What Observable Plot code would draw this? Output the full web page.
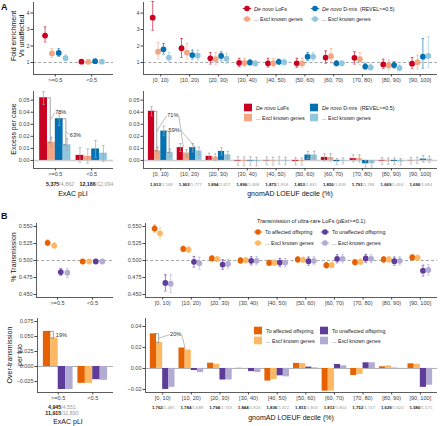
<!DOCTYPE html>
<html><head><meta charset="utf-8">
<script src="https://cdn.jsdelivr.net/npm/d3@7"></script>
<script src="https://cdn.jsdelivr.net/npm/@observablehq/plot@0.6"></script>
<style>
body{margin:0;background:#fff;}
#fig{position:relative;width:440px;height:426px;overflow:hidden;background:#fff;}
</style></head><body><div id="fig"></div><script>
// ---------------- DATA ----------------
const pliCats = [">=0.5", "<0.5"];
const loeufCats = ["[0, 10)", "[10, 20)", "[20, 30)", "[30, 40)", "[40, 50)", "[50, 60)", "[60, 70)", "[70, 80)", "[80, 90)", "[90, 100]"];

// A top: fold enrichment vs unaffected [estimate, low, high]
const foldPliLoF      = [[2.63, 2.24, 3.16], [1.05, 0.98, 1.12]];
const foldPliLoFExcl  = [[1.55, 1.30, 1.85], [1.04, 0.97, 1.11]];
const foldPliDmis     = [[1.58, 1.36, 1.84], [1.08, 1.02, 1.14]];
const foldPliDmisExcl = [[1.26, 1.10, 1.45], [1.05, 0.99, 1.11]];
const foldLoeufLoF      = [[3.72,2.95,4.70],[1.87,1.30,2.45],[1.25,0.90,1.60],[0.98,0.75,1.25],[0.95,0.72,1.25],[0.95,0.70,1.25],[1.30,0.95,1.70],[1.28,0.90,1.65],[0.88,0.62,1.20],[0.93,0.62,1.30]];
const foldLoeufLoFExcl  = [[1.65,1.20,2.20],[1.60,1.20,2.15],[1.20,0.85,1.60],[0.97,0.75,1.25],[0.96,0.75,1.25],[0.95,0.72,1.25],[1.38,0.95,1.85],[1.20,0.85,1.60],[0.82,0.55,1.15],[1.02,0.60,1.45]];
const foldLoeufDmis     = [[1.80,1.50,2.15],[1.45,1.20,1.75],[1.40,1.10,1.65],[1.00,0.85,1.15],[1.04,0.90,1.20],[1.35,1.12,1.60],[0.95,0.80,1.10],[0.75,0.60,0.95],[0.84,0.65,1.05],[1.35,0.65,2.45]];
const foldLoeufDmisExcl = [[1.30,1.05,1.60],[1.42,1.15,1.75],[1.23,0.95,1.55],[0.94,0.80,1.10],[1.02,0.85,1.20],[1.35,1.10,1.60],[0.95,0.80,1.10],[0.70,0.55,0.90],[0.66,0.50,0.85],[1.40,0.70,2.55]];

// A middle: excess per case [estimate, low, high]
const excessPliLoF      = [[0.0520,0.0465,0.0570],[0.0042,-0.0015,0.0105]];
const excessPliLoFExcl  = [[0.0150,0.0110,0.0192],[0.0034,-0.0025,0.0095]];
const excessPliDmis     = [[0.0346,0.0290,0.0390],[0.0095,0.0025,0.0165]];
const excessPliDmisExcl = [[0.0130,0.0080,0.0180],[0.0060,-0.0010,0.0123]];
const excessLoeufLoF      = [[0.0408,0.0370,0.0445],[0.0106,0.0075,0.0140],[0.0034,0.0005,0.0060],[-0.0005,-0.0040,0.0030],[-0.0003,-0.0035,0.0028],[-0.0007,-0.0038,0.0022],[0.0025,-0.0005,0.0055],[0.0015,-0.0012,0.0045],[-0.0005,-0.0032,0.0022],[-0.0002,-0.0030,0.0025]];
const excessLoeufLoFExcl  = [[0.0080,0.0055,0.0110],[0.0061,0.0030,0.0090],[0.0028,0.0000,0.0055],[-0.0008,-0.0045,0.0028],[-0.0005,-0.0038,0.0026],[-0.0008,-0.0038,0.0020],[0.0025,-0.0005,0.0055],[0.0015,-0.0015,0.0045],[-0.0005,-0.0032,0.0020],[0.0001,-0.0025,0.0026]];
const excessLoeufDmis     = [[0.0243,0.0205,0.0285],[0.0106,0.0070,0.0140],[0.0075,0.0045,0.0105],[-0.0005,-0.0040,0.0030],[0.0000,-0.0030,0.0030],[0.0045,0.0015,0.0075],[-0.0010,-0.0035,0.0015],[-0.0028,-0.0055,0.0000],[-0.0008,-0.0035,0.0020],[0.0011,-0.0015,0.0040]];
const excessLoeufDmisExcl = [[0.0067,0.0035,0.0095],[0.0078,0.0045,0.0110],[0.0047,0.0015,0.0075],[-0.0010,-0.0045,0.0025],[-0.0004,-0.0035,0.0025],[0.0045,0.0015,0.0075],[-0.0005,-0.0030,0.0020],[-0.0028,-0.0055,0.0000],[-0.0012,-0.0040,0.0015],[0.0010,-0.0015,0.0035]];

const countsPliA = ["5,375", "12,186"];
const countsPliAExcl = ["4,862", "12,094"];
const countsLoeufA = ["1,913","1,903","1,894","1,890","1,875","1,853","1,850","1,791","1,669","1,690"];
const countsLoeufAExcl = ["1,568","1,777","1,827","1,868","1,858","1,841","1,839","1,784","1,664","1,684"];

// B top: % transmission [estimate, low, high]
const transPliAff       = [[0.526,0.522,0.530],[0.4985,0.4968,0.5002]];
const transPliAffExcl   = [[0.522,0.518,0.526],[0.4985,0.4968,0.5002]];
const transPliUnaff     = [[0.483,0.478,0.488],[0.4985,0.4968,0.5002]];
const transPliUnaffExcl = [[0.482,0.475,0.488],[0.4985,0.4968,0.5002]];
const transLoeufAff       = [[0.547,0.542,0.552],[0.517,0.513,0.521],[0.503,0.499,0.507],[0.500,0.496,0.504],[0.4965,0.4925,0.5005],[0.5015,0.4975,0.5055],[0.493,0.489,0.497],[0.4975,0.4935,0.5015],[0.5015,0.4975,0.5055],[0.5045,0.5005,0.5085]];
const transLoeufAffExcl   = [[0.540,0.532,0.548],[0.516,0.512,0.520],[0.502,0.498,0.506],[0.5005,0.4965,0.5045],[0.4967,0.4927,0.5007],[0.501,0.497,0.505],[0.4935,0.4895,0.4975],[0.498,0.494,0.502],[0.5015,0.4975,0.5055],[0.504,0.500,0.508]];
const transLoeufUnaff     = [[0.467,0.455,0.479],[0.498,0.490,0.506],[0.494,0.487,0.501],[0.4995,0.4935,0.5055],[0.497,0.491,0.503],[0.499,0.493,0.505],[0.5025,0.4965,0.5085],[0.503,0.497,0.509],[0.499,0.493,0.505],[0.485,0.477,0.493]];
const transLoeufUnaffExcl = [[0.466,0.453,0.479],[0.496,0.487,0.505],[0.495,0.488,0.502],[0.4995,0.4935,0.5055],[0.497,0.491,0.503],[0.4995,0.4935,0.5055],[0.5025,0.4965,0.5085],[0.5025,0.4965,0.5085],[0.4995,0.4935,0.5055],[0.486,0.478,0.494]];

// B bottom: over-transmission per trio
const overPliAff       = [0.0585, -0.0280];
const overPliAffExcl   = [0.0474, -0.0280];
const overPliUnaff     = [-0.0383, -0.0220];
const overPliUnaffExcl = [-0.0383, -0.0230];
const overLoeufAff       = [0.0330, 0.0195, 0.0050, 0.0002, -0.0120, 0.0048, -0.0216, -0.0067, 0.0016, 0.0044];
const overLoeufAffExcl   = [0.0248, 0.0175, 0.0040, 0.0001, -0.0105, 0.0048, -0.0216, -0.0057, 0.0025, 0.0040];
const overLoeufUnaff     = [-0.0200, -0.0020, -0.0110, -0.0030, -0.0070, 0.0013, 0.0038, 0.0054, 0.0002, -0.0180];
const overLoeufUnaffExcl = [-0.0180, -0.0040, -0.0110, -0.0040, -0.0080, 0.0006, 0.0025, 0.0054, 0.0001, -0.0160];

const countsPliB = ["4,945", "11,915"];
const countsPliBExcl = ["4,551", "11,830"];
const countsLoeufB = ["1,762","1,784","1,794","1,844","1,836","1,815","1,813","1,752","1,629","1,580"];
const countsLoeufBExcl = ["1,485","1,688","1,743","1,824","1,822","1,803","1,804","1,747","1,624","1,575"];

const annA3Labels = ["78%", "63%"];
const annA4Labels = ["71%", "59%"];
const annB3Labels = ["19%"];
const annB4Labels = ["20%"];

const legendA = ["De novo LoFs", "... Excl known genes", "De novo D-mis  (REVEL>=0.5)", "... Excl known genes"];
const legendBTitle = "Transmission of ultra-rare LoFs (pExt>=0.1)";
const legendB = ["To affected offspring", "... Excl known genes", "To unaffected offspring", "... Excl known genes"];

// ---------------- STYLE ----------------
const FONT = '"Liberation Sans", Arial, Helvetica, sans-serif';
const C_A = ["#CA0020", "#F4A582", "#0571B0", "#92C5DE"];
const C_B = ["#E66101", "#FDB863", "#5E3C99", "#B2ABD2"];
const PT_OFF = [-0.28125, -0.09375, 0.09375, 0.28125];
const BAR_W = 0.215;
const BAR_OFF = [-0.3225, -0.1075, 0.1075, 0.3225];
const fig = document.getElementById("fig");

function rowsOf(seriesList, cats) {
  const rows = [];
  seriesList.forEach((arr, s) => arr.forEach((v, i) => {
    const t = Array.isArray(v) ? v : [v, null, null];
    rows.push({i, s, cat: cats[i], est: t[0], lo: t[1], hi: t[2]});
  }));
  return rows;
}
const estOf = list => list.map(a => a.map(v => Array.isArray(v) ? v[0] : v));

function pointRange(rows, colors, ctx) {
  const cap = 1.4 / ctx.ux;
  const X = d => d.i + PT_OFF[d.s];
  const col = d => colors[d.s];
  return [
    Plot.ruleX(rows, {x: X, y1: "lo", y2: "hi", stroke: col, strokeWidth: 0.9, strokeOpacity: 0.7}),
    Plot.link(rows, {x1: d => X(d) - cap, x2: d => X(d) + cap, y1: "lo", y2: "lo", stroke: col, strokeWidth: 0.8, strokeOpacity: 0.7}),
    Plot.link(rows, {x1: d => X(d) - cap, x2: d => X(d) + cap, y1: "hi", y2: "hi", stroke: col, strokeWidth: 0.8, strokeOpacity: 0.7}),
    Plot.dot(rows, {x: X, y: "est", r: 2.9, fill: col})
  ];
}
function bars(rows, colors, ctx, withErr) {
  const X = d => d.i + BAR_OFF[d.s];
  const m = [Plot.rect(rows, {x1: d => X(d) - BAR_W / 2, x2: d => X(d) + BAR_W / 2, y1: 0, y2: "est", fill: d => colors[d.s]})];
  if (withErr) {
    const cap = 1.3 / ctx.ux;
    m.push(Plot.ruleX(rows, {x: X, y1: "lo", y2: "hi", stroke: "#a8a8a8", strokeWidth: 0.7}));
    m.push(Plot.link(rows, {x1: d => X(d) - cap, x2: d => X(d) + cap, y1: "lo", y2: "lo", stroke: "#a8a8a8", strokeWidth: 0.7}));
    m.push(Plot.link(rows, {x1: d => X(d) - cap, x2: d => X(d) + cap, y1: "hi", y2: "hi", stroke: "#a8a8a8", strokeWidth: 0.7}));
  }
  return m;
}
function bracket(vals, ann, ctx) {
  const {cat: c, a, b, label, dx, dy, extend} = ann;
  const va = vals[a][c], vb = vals[b][c];
  const xa = c + BAR_OFF[a];
  const bx = xa + BAR_W / 2 + 0.35 * BAR_W;
  const mid = (va + vb) / 2;
  const path = [{x: xa + 0.2 * BAR_W, y: va}, {x: bx, y: va}, {x: bx, y: vb}, {x: bx - 0.3 * BAR_W, y: vb}];
  const tx = bx + dx / ctx.ux, ty = mid - dy / ctx.uy;
  const m = [
    Plot.line(path, {x: "x", y: "y", stroke: "#6a6a6a", strokeWidth: 0.6}),
    Plot.text([label], {x: tx, y: ty, fontSize: 5.6, fill: "#333"})
  ];
  if (dx > 8) m.push(Plot.link([0], {x1: bx, y1: mid, x2: tx - 6 / ctx.ux, y2: ty, stroke: "#7a7a7a", strokeWidth: 0.5}));
  if (extend) {
    const ex = c + 1 + (BAR_OFF[a] + BAR_OFF[b]) / 2;
    const ey = Math.max(vals[a][c + 1], vals[b][c + 1]);
    m.push(Plot.link([0], {x1: tx + 6 / ctx.ux, y1: ty, x2: ex, y2: ey, stroke: "#7a7a7a", strokeWidth: 0.5}));
  }
  return m;
}
function countMarks(bold, grey, dy, fs, dx = 0) {
  const idx = d3.range(bold.length);
  return [
    Plot.text(idx, {x: i => i, frameAnchor: "bottom", dy, dx, text: i => bold[i], textAnchor: "end", fontWeight: "bold", fontSize: fs, fill: "#222"}),
    Plot.text(idx, {x: i => i, frameAnchor: "bottom", dy, dx, text: i => "/" + grey[i], textAnchor: "start", fontSize: fs, fill: "#9a9a9a"})
  ];
}

function panel(cfg) {
  const {left, top, width, height, mL, mR, mT, mB, cats, yDomain, yTicks, yFmt} = cfg;
  const n = cats.length;
  const xDom = [-0.6, n - 0.4];
  const ux = (width - mL - mR) / (xDom[1] - xDom[0]);
  const uy = (height - mT - mB) / (yDomain[1] - yDomain[0]);
  const ctx = {ux, uy};
  const svg = Plot.plot({
    width, height, marginLeft: mL, marginRight: mR, marginTop: mT, marginBottom: mB,
    x: {domain: xDom}, y: {domain: yDomain}, color: {type: "identity"},
    style: {fontFamily: FONT, background: "transparent", overflow: "visible", position: "absolute", left: left + "px", top: top + "px", maxWidth: "none"},
    marks: [
      ...cfg.marks(ctx),
      Plot.ruleX([xDom[0]], {stroke: "#333", strokeWidth: 0.8}),
      Plot.ruleY([yDomain[0]], {stroke: "#333", strokeWidth: 0.8}),
      Plot.axisY({ticks: yTicks, tickFormat: yFmt, tickSize: 2.5, tickPadding: 1.5, fontSize: 5.5, color: "#444", label: null}),
      Plot.axisX({ticks: d3.range(n), tickFormat: i => cats[i], tickSize: 2.5, tickPadding: 1.5, fontSize: 5.6, color: "#444", label: null})
    ]
  });
  fig.appendChild(svg);
}

// ---------------- PANELS ----------------
const dashed = v => Plot.ruleY([v], {stroke: "#9a9a9a", strokeDasharray: "3,2.2", strokeWidth: 0.9});

const foldY = {yDomain: [0.27, 4.64], yTicks: [1, 2, 3, 4], yFmt: d3.format("d")};
panel({left: 0, top: 0, width: 118, height: 84, mL: 33, mR: 5, mT: 2, mB: 10, cats: pliCats, ...foldY,
  marks: ctx => [dashed(1), ...pointRange(rowsOf([foldPliLoF, foldPliLoFExcl, foldPliDmis, foldPliDmisExcl], pliCats), C_A, ctx)]});
panel({left: 110, top: 0, width: 330, height: 84, mL: 33, mR: 3, mT: 2, mB: 10, cats: loeufCats, ...foldY,
  marks: ctx => [dashed(1), ...pointRange(rowsOf([foldLoeufLoF, foldLoeufLoFExcl, foldLoeufDmis, foldLoeufDmisExcl], loeufCats), C_A, ctx)]});

const excessY = {yDomain: [-0.0067, 0.0572], yTicks: [0, 0.01, 0.02, 0.03, 0.04, 0.05], yFmt: d3.format(".2f")};
const exPli = [excessPliLoF, excessPliLoFExcl, excessPliDmis, excessPliDmisExcl];
const exLoeuf = [excessLoeufLoF, excessLoeufLoFExcl, excessLoeufDmis, excessLoeufDmisExcl];
const zeroA = Plot.ruleY([0], {stroke: "#cfcfcf", strokeWidth: 1.6});
panel({left: 0, top: 86, width: 118, height: 112, mL: 33, mR: 5, mT: 5, mB: 30, cats: pliCats, ...excessY,
  marks: ctx => [zeroA, ...bars(rowsOf(exPli, pliCats), C_A, ctx, true),
    ...bracket(estOf(exPli), {cat: 0, a: 0, b: 1, label: annA3Labels[0], dx: 10.5, dy: -7.5}, ctx),
    ...bracket(estOf(exPli), {cat: 0, a: 2, b: 3, label: annA3Labels[1], dx: 9.5, dy: 3}, ctx),
    ...countMarks(countsPliA, countsPliAExcl, 17, 5.3, 4)]});
panel({left: 110, top: 86, width: 330, height: 112, mL: 33, mR: 3, mT: 5, mB: 30, cats: loeufCats, ...excessY,
  marks: ctx => [zeroA, ...bars(rowsOf(exLoeuf, loeufCats), C_A, ctx, true),
    ...bracket(estOf(exLoeuf), {cat: 0, a: 0, b: 1, label: annA4Labels[0], dx: 16, dy: -15.5, extend: true}, ctx),
    ...bracket(estOf(exLoeuf), {cat: 0, a: 2, b: 3, label: annA4Labels[1], dx: 5, dy: -12, extend: true}, ctx),
    ...countMarks(countsLoeufA, countsLoeufAExcl, 17, 4.3)]});

const transY = {yDomain: [0.4456, 0.5544], yTicks: [0.45, 0.475, 0.5, 0.525, 0.55], yFmt: d3.format(".3f")};
panel({left: 0, top: 215, width: 118, height: 92, mL: 36, mR: 5, mT: 8, mB: 10, cats: pliCats, ...transY,
  marks: ctx => [dashed(0.5), ...pointRange(rowsOf([transPliAff, transPliAffExcl, transPliUnaff, transPliUnaffExcl], pliCats), C_B, ctx)]});
panel({left: 110, top: 215, width: 330, height: 92, mL: 35, mR: 3, mT: 8, mB: 10, cats: loeufCats, ...transY,
  marks: ctx => [dashed(0.5), ...pointRange(rowsOf([transLoeufAff, transLoeufAffExcl, transLoeufUnaff, transLoeufUnaffExcl], loeufCats), C_B, ctx)]});

const ovPli = [overPliAff, overPliAffExcl, overPliUnaff, overPliUnaffExcl];
const ovLoeuf = [overLoeufAff, overLoeufAffExcl, overLoeufUnaff, overLoeufUnaffExcl];
const zeroB = Plot.ruleY([0], {stroke: "#b0b0b0", strokeWidth: 1});
panel({left: 0, top: 310, width: 118, height: 116, mL: 37, mR: 5, mT: 8, mB: 34, cats: pliCats,
  yDomain: [-0.0433, 0.080], yTicks: [-0.025, 0, 0.025, 0.05, 0.075], yFmt: d3.format(".3f"),
  marks: ctx => [zeroB, ...bars(rowsOf(ovPli, pliCats), C_B, ctx, false),
    ...bracket(ovPli, {cat: 0, a: 0, b: 1, label: annB3Labels[0], dx: 8, dy: 0}, ctx),
    Plot.text([0], {x: 0, frameAnchor: "bottom", dy: 16, dx: 3, text: () => countsPliB[0], textAnchor: "end", fontWeight: "bold", fontSize: 5.3, fill: "#222"}),
    Plot.text([0], {x: 0, frameAnchor: "bottom", dy: 16, dx: 3, text: () => "/" + countsPliBExcl[0], textAnchor: "start", fontSize: 5.3, fill: "#9a9a9a"}),
    Plot.text([0], {x: 0, frameAnchor: "bottom", dy: 22, dx: 3, text: () => countsPliB[1], textAnchor: "end", fontWeight: "bold", fontSize: 5.3, fill: "#222"}),
    Plot.text([0], {x: 0, frameAnchor: "bottom", dy: 22, dx: 3, text: () => "/" + countsPliBExcl[1], textAnchor: "start", fontSize: 5.3, fill: "#9a9a9a"})]});
panel({left: 110, top: 310, width: 330, height: 116, mL: 35, mR: 3, mT: 8, mB: 34, cats: loeufCats,
  yDomain: [-0.0229, 0.0476], yTicks: [-0.02, 0, 0.02, 0.04], yFmt: d3.format(".2f"),
  marks: ctx => [zeroB, ...bars(rowsOf(ovLoeuf, loeufCats), C_B, ctx, false),
    ...bracket(ovLoeuf, {cat: 0, a: 0, b: 1, label: annB4Labels[0], dx: 17, dy: -3.5, extend: true}, ctx),
    ...countMarks(countsLoeufB, countsLoeufBExcl, 16, 4.3)]});

// ---------------- OVERLAY: letters, titles, legends ----------------
const ov = d3.select(fig).append("svg").attr("width", 440).attr("height", 426)
  .style("position", "absolute").style("left", "0px").style("top", "0px")
  .style("font-family", FONT).style("pointer-events", "none");
const txt = (x, y, s, o = {}) => ov.append("text").attr("x", x).attr("y", y).text(s)
  .attr("font-size", o.fs || 7).attr("fill", o.fill || "#111").attr("font-weight", o.fw || null)
  .attr("text-anchor", o.anchor || "middle").attr("dominant-baseline", "central");
const vtxt = (x, y, s, fs = 7) => ov.append("text").attr("transform", `translate(${x},${y}) rotate(-90)`)
  .text(s).attr("font-size", fs).attr("fill", "#111").attr("text-anchor", "middle").attr("dominant-baseline", "central");

txt(1, 6.5, "A", {fs: 9, fw: "bold", anchor: "start"});
txt(1, 215.5, "B", {fs: 9, fw: "bold", anchor: "start"});
vtxt(13.3, 36, "Fold enrichment");
vtxt(21.3, 36, "Vs unaffected");
vtxt(13.5, 129, "Excess per case");
vtxt(13.5, 257, "% Transmission");
vtxt(9.5, 355, "Over-transmission");
vtxt(19.5, 355, "per trio");
txt(73, 193, "ExAC pLI");
txt(290, 193, "gnomAD LOEUF decile (%)");
txt(68, 421.5, "ExAC pLI");
txt(291, 417, "gnomAD LOEUF decile (%)");

function legText(x, y, s) {
  const t = ov.append("text").attr("x", x).attr("y", y).attr("font-size", 5.3).attr("fill", "#222").attr("dominant-baseline", "central");
  if (s.startsWith("De novo")) {
    t.append("tspan").attr("font-style", "italic").text("De novo");
    t.append("tspan").attr("xml:space", "preserve").text(s.slice(7));
  } else t.text(s);
}
function legPoint(x, y, c) {
  ov.append("line").attr("x1", x - 4.2).attr("x2", x + 4.2).attr("y1", y).attr("y2", y).attr("stroke", c).attr("stroke-width", 0.9);
  ov.append("circle").attr("cx", x).attr("cy", y).attr("r", 2.8).attr("fill", c);
}
function legSquare(x, y, c) {
  ov.append("rect").attr("x", x - 4).attr("y", y - 3.8).attr("width", 8).attr("height", 7.6).attr("fill", c);
}
// A top legend
[[247, 8.5, 0], [247, 19, 1], [315, 8.5, 2], [315, 19, 3]].forEach(([x, y, k]) => { legPoint(x, y, C_A[k]); legText(x + 7, y, legendA[k]); });
// A middle legend
[[248, 107.5, 0], [248, 117.5, 1], [314, 107.5, 2], [314, 117.5, 3]].forEach(([x, y, k]) => { legSquare(x, y, C_A[k]); legText(x + 8, y, legendA[k]); });
// B top legend
txt(257, 221, legendBTitle, {fs: 5.6, anchor: "start", fill: "#222"});
[[258, 232, 0], [258, 243, 1], [325, 232, 2], [325, 243, 3]].forEach(([x, y, k]) => { legPoint(x, y, C_B[k]); legText(x + 7, y, legendB[k]); });
// B bottom legend
[[258, 330.5, 0], [258, 340.5, 1], [324, 330.5, 2], [324, 340.5, 3]].forEach(([x, y, k]) => { legSquare(x, y, C_B[k]); legText(x + 8, y, legendB[k]); });
</script></body></html>
